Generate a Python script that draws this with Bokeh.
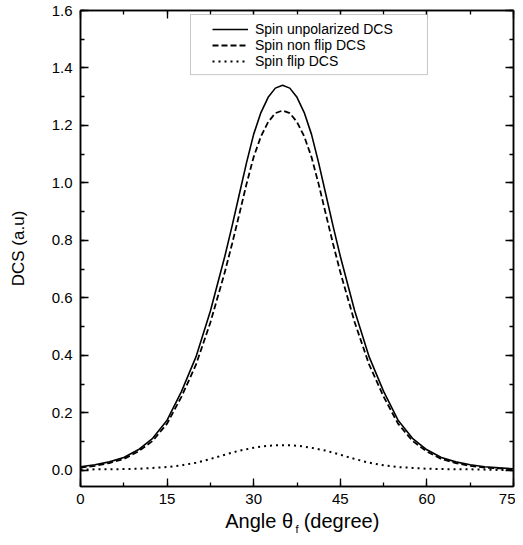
from bokeh.plotting import figure
from bokeh.models import (Range1d, LinearAxis, SingleIntervalTicker, NumeralTickFormatter,
                          FixedTicker, Legend, LegendItem, CustomJSTickFormatter, BoxAnnotation)
from bokeh.embed import file_html
from bokeh.resources import INLINE

# Data
angle = [0, 2.5, 5, 7.5, 10, 12.5, 15, 17.5, 20, 22.5, 25, 26.25, 27.5, 28.75, 30,
         31.25, 32.5, 33.75, 35, 36.25, 37.5, 38.75, 40, 41.25, 42.5, 43.75, 45,
         47.5, 50, 52.5, 55, 57.5, 60, 62.5, 65, 67.5, 70, 72.5, 75]

spin_unpolarized = [0.013, 0.020, 0.030, 0.045, 0.072, 0.112, 0.175, 0.275, 0.395, 0.555,
                    0.745, 0.850, 0.960, 1.070, 1.170, 1.245, 1.298, 1.330, 1.340,
                    1.330, 1.298, 1.245, 1.170, 1.070, 0.960, 0.850, 0.745,
                    0.555, 0.395, 0.275, 0.175, 0.112, 0.072, 0.045, 0.030, 0.020,
                    0.013, 0.009, 0.006]

spin_non_flip = [0.010, 0.016, 0.026, 0.040, 0.066, 0.103, 0.163, 0.257, 0.368, 0.515,
                 0.690, 0.788, 0.891, 0.996, 1.091, 1.162, 1.212, 1.243, 1.252,
                 1.243, 1.212, 1.162, 1.091, 0.996, 0.891, 0.788, 0.690,
                 0.515, 0.368, 0.257, 0.163, 0.103, 0.066, 0.040, 0.026, 0.016,
                 0.010, 0.007, 0.004]

spin_flip = [0.003, 0.004, 0.004, 0.005, 0.006, 0.009, 0.012, 0.018, 0.027, 0.040,
             0.055, 0.062, 0.069, 0.074, 0.079, 0.083, 0.086, 0.0875, 0.088,
             0.0875, 0.086, 0.083, 0.079, 0.074, 0.069, 0.062, 0.055,
             0.040, 0.027, 0.018, 0.012, 0.009, 0.006, 0.005, 0.004, 0.004,
             0.003, 0.002, 0.002]

series_labels = ["Spin unpolarized DCS", "Spin non flip DCS", "Spin flip DCS"]
x_title_parts = ["Angle θ", "(degree)"]
x_title_sub = "f"
y_title = "DCS (a.u)"

FONT = "Liberation Sans"

p = figure(width=515, height=537, output_backend="svg", toolbar_location=None,
           x_range=Range1d(0, 75), y_range=Range1d(-0.0557, 1.6),
           min_border_left=80, min_border_right=2, min_border_top=10, min_border_bottom=51,
           x_axis_location=None, y_axis_location=None)
p.grid.visible = False
p.outline_line_color = "black"
p.outline_line_width = 1.5
p.background_fill_color = "white"
p.border_fill_color = "white"

def style_axis(ax, labels=True):
    ax.axis_line_width = 1.5
    ax.axis_line_color = "black"
    ax.major_tick_in = 8
    ax.major_tick_out = 0
    ax.minor_tick_in = 4
    ax.minor_tick_out = 0
    ax.major_tick_line_width = 1.3
    ax.minor_tick_line_width = 1.3
    ax.major_label_text_font = FONT
    ax.major_label_text_font_size = "15px"
    ax.major_label_text_color = "black"
    ax.axis_label_text_font = FONT
    ax.axis_label_text_font_style = "normal"
    ax.axis_label_text_color = "black"
    if not labels:
        ax.formatter = CustomJSTickFormatter(code="return ''")
        ax.major_label_standoff = 0

# bottom axis: ticks and numbers
xb = LinearAxis(ticker=SingleIntervalTicker(interval=15, num_minor_ticks=2))
style_axis(xb)
xb.major_label_standoff = 7
p.add_layout(xb, "below")

# bottom title: words as labels of a tick-less axis, the subscript as its axis label
title_pos = [30.95, 45.21]
xtitle = LinearAxis(ticker=FixedTicker(ticks=title_pos, minor_ticks=[]),
                    major_label_overrides={title_pos[0]: x_title_parts[0],
                                           title_pos[1]: x_title_parts[1]})
xtitle.axis_line_color = None
xtitle.major_tick_line_color = None
xtitle.minor_tick_line_color = None
xtitle.major_tick_in = 0
xtitle.major_tick_out = 0
xtitle.minor_tick_in = 0
xtitle.minor_tick_out = 0
xtitle.major_label_text_font = FONT
xtitle.major_label_text_font_size = "20px"
xtitle.major_label_text_color = "black"
xtitle.major_label_standoff = 3
xtitle.axis_label = x_title_sub
xtitle.axis_label_text_font = FONT
xtitle.axis_label_text_font_style = "normal"
xtitle.axis_label_text_font_size = "11px"
xtitle.axis_label_text_color = "black"
xtitle.axis_label_standoff = -12
p.add_layout(xtitle, "below")

yl = LinearAxis(ticker=SingleIntervalTicker(interval=0.2, num_minor_ticks=2),
                formatter=NumeralTickFormatter(format="0.0"))
style_axis(yl)
yl.axis_label = y_title
yl.axis_label_text_font_size = "17px"
yl.major_label_standoff = 8
yl.axis_label_standoff = 21
p.add_layout(yl, "left")

xt = LinearAxis(ticker=SingleIntervalTicker(interval=15, num_minor_ticks=2))
style_axis(xt, labels=False)
p.add_layout(xt, "above")

yr = LinearAxis(ticker=SingleIntervalTicker(interval=0.2, num_minor_ticks=2))
style_axis(yr, labels=False)
p.add_layout(yr, "right")

r1 = p.line(angle, spin_unpolarized, line_color="black", line_width=1.6)
r2 = p.line(angle, spin_non_flip, line_color="black", line_width=1.8, line_dash="6 3")
r3 = p.line(angle, spin_flip, line_color="black", line_width=2, line_dash="2 4")

# legend frame (decoration, in plot units)
legend_box = BoxAnnotation(left=19.05, right=60.1, top=1.586, bottom=1.377,
                           fill_color="white", fill_alpha=1,
                           line_color="#444444", line_width=1, level="overlay")
p.add_layout(legend_box)

legend = Legend(items=[LegendItem(label=series_labels[0], renderers=[r1]),
                       LegendItem(label=series_labels[1], renderers=[r2]),
                       LegendItem(label=series_labels[2], renderers=[r3])],
                location=(132, 417))
legend.label_text_font = FONT
legend.label_text_font_size = "14px"
legend.label_text_color = "black"
legend.label_height = 16
legend.glyph_height = 16
legend.glyph_width = 36
legend.label_standoff = 7
legend.spacing = 0
legend.padding = 0
legend.margin = 0
legend.border_line_alpha = 0
legend.background_fill_alpha = 0
p.add_layout(legend)

open("out.html", "w").write(file_html(p, INLINE))
